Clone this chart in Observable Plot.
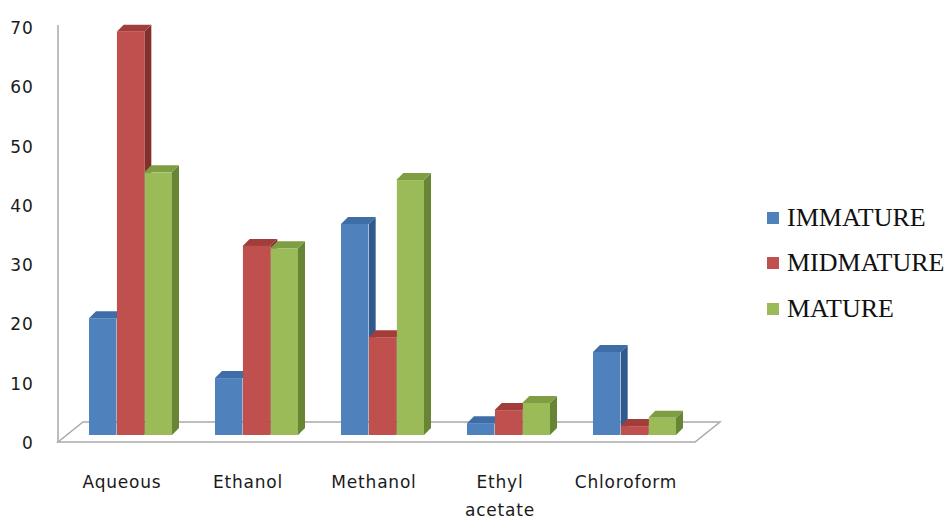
<!DOCTYPE html>
<html><head><meta charset="utf-8">
<script src="https://cdn.jsdelivr.net/npm/d3@7"></script>
<script src="https://cdn.jsdelivr.net/npm/@observablehq/plot@0.6"></script>
<style>
body{margin:0;background:#fff;}
#wrap{position:relative;width:946px;height:523px;overflow:hidden;background:#fff;}
#legend{position:absolute;left:767px;top:195px;font-family:"Liberation Serif","Times New Roman",serif;font-size:26px;color:#111;}
.row{display:flex;align-items:center;height:45.5px;white-space:nowrap;}
.sw{width:12px;height:12px;margin-right:8px;flex:none;}
</style></head><body>
<div id="wrap"><div id="chart"></div><div id="legend"></div></div>
<script>
// ---- data ----
const categories = ["Aqueous", "Ethanol", "Methanol", "Ethyl\nacetate", "Chloroform"];
const series = ["IMMATURE", "MIDMATURE", "MATURE"];
const immature = [19.7, 9.6, 35.6, 2.0, 14.0];
const midmature = [68.0, 31.9, 16.5, 4.2, 1.5];
const mature = [44.3, 31.5, 43.0, 5.4, 2.9];
const yTicks = [0, 10, 20, 30, 40, 50, 60, 70];

// ---- style ----
const frontColors = ["#4F81BD", "#C0504D", "#9BBB59"];
const capColors = ["#3E6DA8", "#A33D3A", "#7F9E43"];
const sideColors = ["#2F5A8E", "#862E2C", "#678535"];

const W = 946, H = 523, ML = 44, MR = 224, MT = 20, MB = 88, PAD = 0.34, DEPTH = 7;
const NS = "http://www.w3.org/2000/svg";

const seriesValues = [immature, midmature, mature];
const table = categories.flatMap((c, i) => series.map((s, j) => ({category: c, series: s, si: j, value: seriesValues[j][i]})));

const step = (W - ML - MR) / (categories.length - PAD + 2 * PAD);
const sub = step * (1 - PAD) / series.length;

function poly(points, fill) {
  const p = document.createElementNS(NS, "polygon");
  p.setAttribute("points", points.map(q => q.join(",")).join(" "));
  p.setAttribute("fill", fill);
  return p;
}

function floorMark(index, scales, values, dims) {
  const {y} = scales;
  const y0 = y(0);
  const g = document.createElementNS(NS, "g");
  const xl = dims.marginLeft + 14, xr = dims.width - dims.marginRight - 27;
  const front = y0 + 7, back = y0 - 13, dx = 25;
  const f = poly([[xl, front], [xl + dx, back], [xr + dx, back], [xr, front]], "#fff");
  f.setAttribute("stroke", "#a9a9a9");
  f.setAttribute("stroke-width", "1.5");
  g.appendChild(f);
  const l = document.createElementNS(NS, "line");
  l.setAttribute("x1", xl); l.setAttribute("x2", xl);
  l.setAttribute("y1", y(70) + 5); l.setAttribute("y2", front);
  l.setAttribute("stroke", "#a9a9a9"); l.setAttribute("stroke-width", "1.5");
  g.appendChild(l);
  return g;
}

function depthMark(index, scales) {
  const {x, y} = scales;
  const bw = typeof x.bandwidth === "function" ? x.bandwidth() : x.bandwidth;
  const s = bw / series.length;
  const y0 = y(0);
  const g = document.createElementNS(NS, "g");
  const caps = [];
  for (const d of table) {
    const x0 = x(d.category) + d.si * s, x1 = x0 + s, top = y(d.value);
    g.appendChild(poly([[x1, top], [x1 + DEPTH, top - DEPTH], [x1 + DEPTH, y0 - DEPTH], [x1, y0]], sideColors[d.si]));
    caps.push(poly([[x0, top], [x0 + DEPTH, top - DEPTH], [x1 + DEPTH, top - DEPTH], [x1, top]], capColors[d.si]));
  }
  caps.forEach(c => g.appendChild(c));
  return g;
}

const chart = Plot.plot({
  width: W, height: H,
  marginLeft: ML, marginRight: MR, marginTop: MT, marginBottom: MB,
  style: {fontFamily: "'DejaVu Sans', Verdana, sans-serif", letterSpacing: "0.8px", background: "transparent"},
  x: {domain: categories, padding: PAD, axis: null},
  y: {domain: [0, 70], axis: null},
  marks: [
    floorMark,
    depthMark,
    ...series.map((s, j) => Plot.barY(table.filter(d => d.si === j), {
      x: "category", y: "value", fill: frontColors[j],
      insetLeft: j * sub, insetRight: (series.length - 1 - j) * sub
    })),
    Plot.text(categories, {x: d => d, text: d => d, frameAnchor: "bottom", lineAnchor: "top", dy: 33, dx: -9, lineHeight: 1.62, fontSize: 17, fill: "#1a1a1a"}),
    Plot.text(yTicks, {y: d => d, text: d => String(d), frameAnchor: "left", textAnchor: "end", dx: -11, dy: 8, fontSize: 17, fill: "#1a1a1a"})
  ]
});
document.getElementById("chart").appendChild(chart);

const legend = document.getElementById("legend");
series.forEach((s, j) => {
  const row = document.createElement("div");
  row.className = "row";
  const sw = document.createElement("span");
  sw.className = "sw";
  sw.style.background = frontColors[j];
  const t = document.createElement("span");
  t.textContent = s;
  row.appendChild(sw); row.appendChild(t);
  legend.appendChild(row);
});
</script>
</body></html>
